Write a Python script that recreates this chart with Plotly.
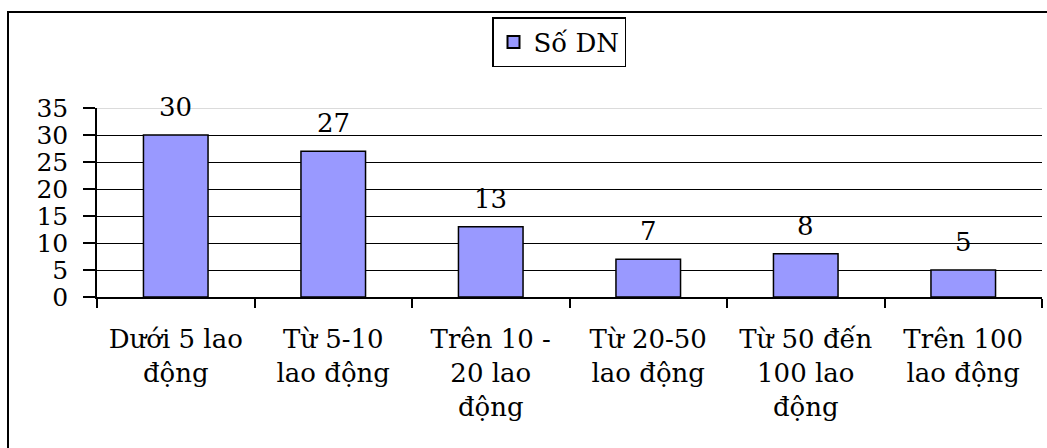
import plotly.graph_objects as go

# Số doanh nghiệp theo quy mô lao động
categories = [
    "Dưới 5 lao<br>động",
    "Từ 5-10<br>lao động",
    "Trên 10 -<br>20 lao<br>động",
    "Từ 20-50<br>lao động",
    "Từ 50 đến<br>100 lao<br>động",
    "Trên 100<br>lao động",
]
so_dn = [30, 27, 13, 7, 8, 5]
y_ticks = [0, 5, 10, 15, 20, 25, 30, 35]

W, H = 1047, 448
L, R, T, B = 97, 5, 108, 151
pw, ph = W - L - R, H - T - B

FONT = "DejaVu Serif"
FS = 26
TICK_FS = 25

fig = go.Figure()
fig.add_trace(go.Bar(
    x=categories,
    y=so_dn,
    name="Số DN",
    marker=dict(color="#9999FF", line=dict(color="black", width=1.5)),
))

# value labels above each bar
for c, v in zip(categories, so_dn):
    fig.add_annotation(
        x=c, y=v, text=str(v), showarrow=False,
        xref="x", yref="y", yanchor="bottom", yshift=11,
        font=dict(family=FONT, size=FS, color="black"),
    )

# outer chart frame (top and left edges visible)
fig.add_shape(
    type="rect", xref="paper", yref="paper",
    x0=(8 - L) / pw, x1=1.2, y0=-1.5, y1=(H - B - 12) / ph,
    line=dict(color="black", width=2), fillcolor="rgba(0,0,0,0)",
)
# top gridline drawn lighter
fig.add_shape(
    type="line", xref="paper", yref="y", x0=0, x1=1, y0=y_ticks[-1], y1=y_ticks[-1],
    line=dict(color="#cfcfcf", width=1.5), layer="between",
)

fig.update_layout(
    width=W, height=H,
    margin=dict(l=L, r=R, t=T, b=B),
    paper_bgcolor="white", plot_bgcolor="white",
    font=dict(family=FONT, size=FS, color="black"),
    bargap=0.59,
    showlegend=True,
    legend=dict(
        x=(492 - L) / pw, y=(H - B - 17) / ph, xanchor="left", yanchor="top",
        bordercolor="black", borderwidth=1.5, bgcolor="white",
        font=dict(family=FONT, size=FS, color="black"),
        itemsizing="constant",
    ),
    xaxis=dict(
        showline=True, linecolor="black", linewidth=1.5,
        ticks="outside", tickson="boundaries", ticklen=9, tickwidth=1.5, tickcolor="black",
        showgrid=False, ticklabelstandoff=18,
        tickfont=dict(family=FONT, size=FS, color="black"),
    ),
    yaxis=dict(
        range=[0, 35], tickvals=y_ticks,
        showline=True, linecolor="black", linewidth=1.5,
        ticks="outside", ticklen=12, tickwidth=1.5, tickcolor="black",
        showgrid=True, gridcolor="black", gridwidth=1.2, zeroline=False,
        ticklabelstandoff=10,
        tickfont=dict(family=FONT, size=TICK_FS, color="black"),
    ),
)

fig.write_html("out.html")
